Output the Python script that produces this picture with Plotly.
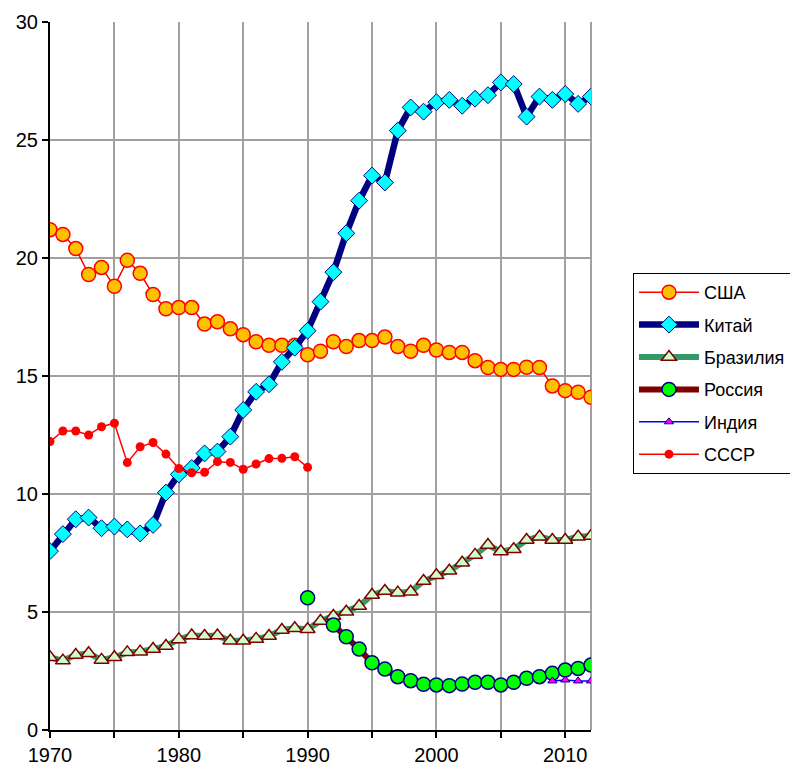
import plotly.graph_objects as go

years = list(range(1970, 2013))

usa = [21.2, 21.0, 20.4, 19.3, 19.6, 18.8, 19.9, 19.35, 18.45, 17.85,
       17.9, 17.9, 17.2, 17.3, 17.0, 16.75, 16.45, 16.3, 16.3, 16.3,
       15.9, 16.05, 16.45, 16.25, 16.5, 16.5, 16.65, 16.25, 16.05, 16.3,
       16.1, 16.0, 16.0, 15.65, 15.36, 15.28, 15.28, 15.37, 15.36, 14.58,
       14.38, 14.31, 14.1]

china = [7.58, 8.3, 8.93, 9.0, 8.55, 8.62, 8.5, 8.33, 8.69, 10.06,
         10.83, 11.1, 11.72, 11.8, 12.43, 13.56, 14.33, 14.65, 15.6, 16.2,
         16.92, 18.15, 19.4, 21.05, 22.43, 23.49, 23.2, 25.4, 26.38, 26.2,
         26.6, 26.7, 26.45, 26.75, 26.9, 27.44, 27.37, 25.99, 26.84, 26.7,
         26.95, 26.53, 26.84]

brazil = [3.08, 2.94, 3.18, 3.25, 2.97, 3.08, 3.29, 3.32, 3.43, 3.56,
          3.84, 4.0, 3.98, 4.0, 3.78, 3.78, 3.86, 3.98, 4.24, 4.31,
          4.27, 4.62, 4.83, 5.01, 5.25, 5.72, 5.89, 5.82, 5.86, 6.31,
          6.56, 6.75, 7.09, 7.42, 7.84, 7.56, 7.66, 8.05, 8.19, 8.05,
          8.05, 8.19, 8.22]

russia_years = list(range(1990, 2013))
russia = [5.6, None, 4.45, 3.95, 3.43, 2.85, 2.58, 2.26, 2.09, 1.94,
          1.91, 1.88, 1.95, 2.02, 2.02, 1.91, 2.02, 2.19, 2.26, 2.4,
          2.54, 2.61, 2.75]

india_years = [2009, 2010, 2011, 2012]
india = [2.08, 2.12, 2.08, 2.08]

ussr_years = list(range(1970, 1991))
ussr = [12.22, 12.67, 12.67, 12.5, 12.85, 13.0, 11.33, 12.0, 12.18, 11.69,
        11.08, 10.9, 10.92, 11.37, 11.34, 11.05, 11.27, 11.5, 11.51, 11.58,
        11.13]

names = ["США", "Китай", "Бразилия", "Россия", "Индия", "СССР"]

fig = go.Figure()

fig.add_trace(go.Scatter(
    x=years, y=usa, name=names[0], mode="lines+markers", legendgroup="a",
    line=dict(color="#FF0000", width=1.5),
    marker=dict(symbol="circle", size=14, color="#FFC000",
                line=dict(color="#FF0000", width=1.5))))

fig.add_trace(go.Scatter(
    x=years, y=china, name=names[1], mode="lines+markers", legendgroup="b",
    line=dict(color="#000080", width=6.5),
    marker=dict(symbol="diamond", size=13, color="#00FFFF",
                line=dict(color="#000080", width=1))))

fig.add_trace(go.Scatter(
    x=years, y=brazil, name=names[2], mode="lines+markers", legendgroup="c",
    line=dict(color="#339966", width=6),
    marker=dict(symbol="triangle-up", size=13, color="#CCFFCC",
                line=dict(color="#800000", width=1.5))))

fig.add_trace(go.Scatter(
    x=russia_years, y=russia, name=names[3], mode="lines+markers", legendgroup="d",
    connectgaps=False,
    line=dict(color="#800000", width=6),
    marker=dict(symbol="circle", size=14, color="#00FF00",
                line=dict(color="#000080", width=1.5))))

fig.add_trace(go.Scatter(
    x=india_years, y=india, name=names[4], mode="lines+markers", legendgroup="e",
    line=dict(color="#0000FF", width=1.5),
    marker=dict(symbol="triangle-up", size=8, color="#FF00FF",
                line=dict(color="#000080", width=1))))

fig.add_trace(go.Scatter(
    x=ussr_years, y=ussr, name=names[5], mode="lines+markers", legendgroup="f",
    line=dict(color="#FF0000", width=1.5),
    marker=dict(symbol="circle", size=9, color="#FF0000",
                line=dict(color="#FF0000", width=0))))

grid = "#A0A0A0"
fig.update_layout(
    width=790, height=764,
    margin=dict(l=42, r=207, t=14, b=42, autoexpand=False),
    paper_bgcolor="white", plot_bgcolor="white",
    font=dict(family="Liberation Sans, Arial, sans-serif", size=20, color="black"),
    showlegend=True,
    legend=dict(x=1.0776, y=0.6455, xanchor="left", yanchor="top",
                bordercolor="black", borderwidth=1, bgcolor="white",
                font=dict(size=18), itemwidth=60, tracegroupgap=6,
                itemsizing="trace"),
    xaxis=dict(range=[1970, 2012], tickmode="linear", tick0=1970, dtick=10,
               automargin=False,
               showgrid=True, gridcolor=grid, gridwidth=2,
               showline=True, linecolor="black", linewidth=2,
               ticks="outside", ticklen=6, tickcolor="black", tickwidth=1.5,
               zeroline=False,
               minor=dict(dtick=5, tick0=1970, showgrid=True, gridcolor=grid,
                          gridwidth=2, ticks="outside", ticklen=6,
                          tickcolor="black", tickwidth=1.5)),
    yaxis=dict(range=[0, 30], tickmode="linear", tick0=0, dtick=5,
               automargin=False,
               showgrid=True, gridcolor=grid, gridwidth=2,
               showline=True, linecolor="black", linewidth=2,
               ticks="outside", ticklen=6, tickcolor="black", tickwidth=1.5,
               zeroline=False),
    shapes=[dict(type="line", xref="paper", yref="paper", x0=1, x1=1, y0=0, y1=1,
                 line=dict(color=grid, width=2), layer="below")],
)

fig.write_html("out.html")
